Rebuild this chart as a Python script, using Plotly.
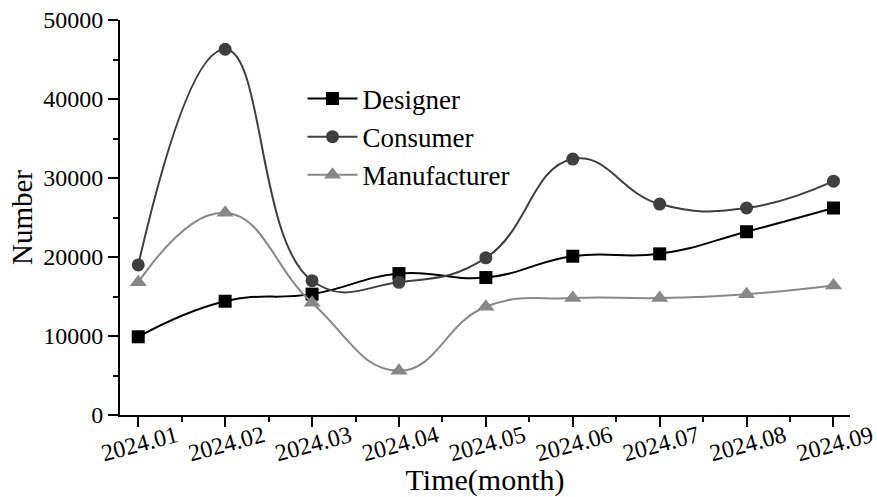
import plotly.graph_objects as go

# Monthly counts for each participant group
months = ["2024.01", "2024.02", "2024.03", "2024.04", "2024.05",
          "2024.06", "2024.07", "2024.08", "2024.09"]
designer = [9900, 14400, 15300, 17900, 17400, 20100, 20400, 23200, 26200]
consumer = [19000, 46300, 17000, 16800, 19900, 32400, 26700, 26200, 29600]
manufacturer = [16800, 25600, 14200, 5600, 13700, 14800, 14800, 15300, 16400]

x = list(range(1, len(months) + 1))
FONT = "Liberation Serif, Times New Roman, serif"

series = [
    ("Designer", designer, "#000000", "square"),
    ("Consumer", consumer, "#3f3f3f", "circle"),
    ("Manufacturer", manufacturer, "#888888", "triangle-up"),
]

fig = go.Figure()
for name, vals, color, sym in series:
    fig.add_trace(go.Scatter(
        x=x, y=vals, name=name, mode="lines+markers",
        line=dict(color=color, width=2, shape="spline", smoothing=1.3),
        marker=dict(symbol=sym, size=13 if sym != "triangle-up" else 15, color=color),
    ))

fig.update_layout(
    width=877, height=497,
    margin=dict(l=120, r=27, t=20, b=82),
    paper_bgcolor="white", plot_bgcolor="white",
    font=dict(family=FONT, size=23, color="black"),
    showlegend=True,
    legend=dict(x=0.25, y=0.862, xanchor="left", yanchor="top",
                bgcolor="rgba(0,0,0,0)", font=dict(size=27, family=FONT),
                itemwidth=50, tracegroupgap=0),
)

fig.update_xaxes(
    range=[0.79, 9.19], tickmode="array", tickvals=x, ticktext=months,
    tickangle=-15, ticklabelshift=38, ticklabelstandoff=-14,
    showgrid=False, zeroline=False, automargin=False,
    showline=True, linecolor="black", linewidth=2,
    ticks="outside", ticklen=10, tickwidth=2, tickcolor="black",
    minor=dict(tickmode="array", tickvals=[v + 0.5 for v in x[:-1]],
               ticks="outside", ticklen=5, tickwidth=2, tickcolor="black"),
    title=dict(text="Time(month)", font=dict(size=30, family=FONT), standoff=0),
    tickfont=dict(size=24, family=FONT),
)
fig.update_yaxes(
    range=[0, 50000], tickmode="linear", tick0=0, dtick=10000, tickformat="d",
    showgrid=False, zeroline=False, automargin=False,
    showline=True, linecolor="black", linewidth=2,
    ticks="outside", ticklen=10, tickwidth=2, tickcolor="black",
    minor=dict(dtick=5000, ticks="outside", ticklen=5, tickwidth=2, tickcolor="black"),
    title=dict(text="Number", font=dict(size=29, family=FONT), standoff=2),
    tickfont=dict(size=24, family=FONT),
)

fig.write_html("out.html")
